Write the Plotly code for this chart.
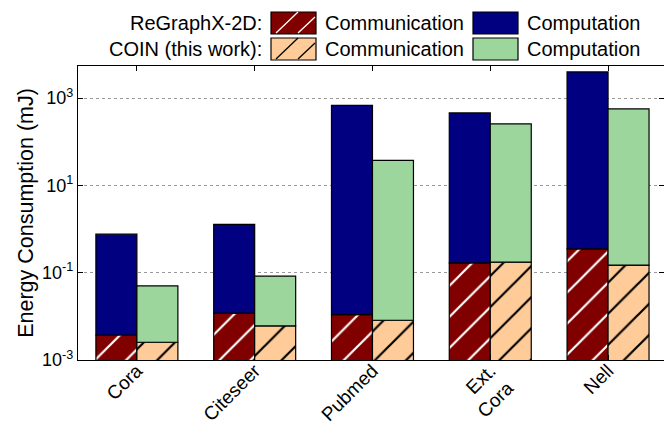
import plotly.graph_objects as go

# Energy per dataset (mJ), split into communication and computation parts
datasets = ["Cora", "Citeseer", "Pubmed", "Ext.<br>Cora", "Nell"]
regraphx_comm = [0.00374, 0.0118, 0.0109, 0.168, 0.352]
regraphx_comp = [0.760, 1.26, 680, 455, 3970]
coin_comm = [0.00255, 0.00602, 0.00814, 0.174, 0.149]
coin_comp = [0.0472, 0.0772, 37.2, 255, 562]

y_tickvals = [1e-3, 1e-1, 1e1, 1e3]
y_ticktext = ["10<sup>-3</sup>", "10<sup>-1</sup>", "10<sup>1</sup>", "10<sup>3</sup>"]

RED, NAVY, PEACH, GREEN = "#800000", "#000080", "#FFCC99", "#9DD69D"
FONT = "Liberation Sans, Arial, sans-serif"

W, H = 664, 423
ML, MR, MT, MB = 78, 0, 66, 63
PW, PH = W - ML - MR, H - MT - MB


def px(x):
    return (x - ML) / PW


def py(y):
    return (H - MB - y) / PH


outline = dict(color="black", width=1.2)
hatch = dict(shape="/", size=22, solidity=0.1, fgopacity=1)

fig = go.Figure()
fig.add_bar(x=datasets, y=regraphx_comm, offsetgroup="rg", showlegend=False,
            marker=dict(color=RED, line=outline, pattern=dict(hatch, fgcolor="white")))
fig.add_bar(x=datasets, y=regraphx_comp, base=regraphx_comm, offsetgroup="rg",
            showlegend=False, marker=dict(color=NAVY, line=outline))
fig.add_bar(x=datasets, y=coin_comm, offsetgroup="coin", showlegend=False,
            marker=dict(color=PEACH, line=outline, pattern=dict(hatch, fgcolor="black")))
fig.add_bar(x=datasets, y=coin_comp, base=coin_comm, offsetgroup="coin",
            showlegend=False, marker=dict(color=GREEN, line=outline))

# Two-row legend drawn above the plot
shapes = []
annotations = []
rows = [("ReGraphX-2D:", RED, "white", NAVY, 12, 34),
        ("COIN (this work):", PEACH, "black", GREEN, 38, 60)]
for label, comm_col, hatch_col, comp_col, y0, y1 in rows:
    yc = (y0 + y1) / 2
    annotations.append(dict(x=px(264), y=py(yc), xref="paper", yref="paper",
                            text=label, showarrow=False, xanchor="right",
                            yanchor="middle", font=dict(size=20)))
    shapes.append(dict(type="rect", xref="paper", yref="paper",
                       x0=px(271), x1=px(316), y0=py(y1), y1=py(y0),
                       fillcolor=comm_col, line=dict(color="black", width=1.2)))
    for xs in (276, 298):
        xe = min(xs + (y1 - y0), 315)
        ye = y1 - (xe - xs)
        shapes.append(dict(type="line", xref="paper", yref="paper",
                           x0=px(xs), y0=py(y1 - 1), x1=px(xe), y1=py(ye),
                           line=dict(color=hatch_col, width=1.3)))
    annotations.append(dict(x=px(323), y=py(yc), xref="paper", yref="paper",
                            text="Communication", showarrow=False, xanchor="left",
                            yanchor="middle", font=dict(size=20)))
    shapes.append(dict(type="rect", xref="paper", yref="paper",
                       x0=px(473), x1=px(518), y0=py(y1), y1=py(y0),
                       fillcolor=comp_col, line=dict(color="black", width=1.2)))
    annotations.append(dict(x=px(525), y=py(yc), xref="paper", yref="paper",
                            text="Computation", showarrow=False, xanchor="left",
                            yanchor="middle", font=dict(size=20)))

fig.update_layout(
    width=W, height=H,
    margin=dict(l=ML, r=MR, t=MT, b=MB),
    paper_bgcolor="white", plot_bgcolor="white",
    font=dict(family=FONT, color="black", size=18),
    barmode="group", bargap=0.304, bargroupgap=0,
    shapes=shapes, annotations=annotations,
)
fig.update_xaxes(
    range=[-0.5, 4.475], showline=True, linecolor="black", linewidth=1.3,
    mirror="ticks", ticks="inside", ticklen=5, tickcolor="black",
    tickangle=-45, tickfont=dict(size=19), showgrid=False, automargin=False,
    ticklabelstandoff=-9,
)
fig.update_yaxes(
    type="log", range=[-3, 3.734], showline=True, linecolor="black", linewidth=1.3,
    mirror="ticks", ticks="inside", ticklen=5, tickcolor="black",
    tickvals=y_tickvals, ticktext=y_ticktext, tickfont=dict(size=18),
    showgrid=True, gridcolor="#9a9a9a", griddash="dot", gridwidth=1,
    zeroline=False, automargin=False,
    title=dict(text="Energy Consumption (mJ)", font=dict(size=21.5), standoff=2),
)

fig.write_html("out.html")
